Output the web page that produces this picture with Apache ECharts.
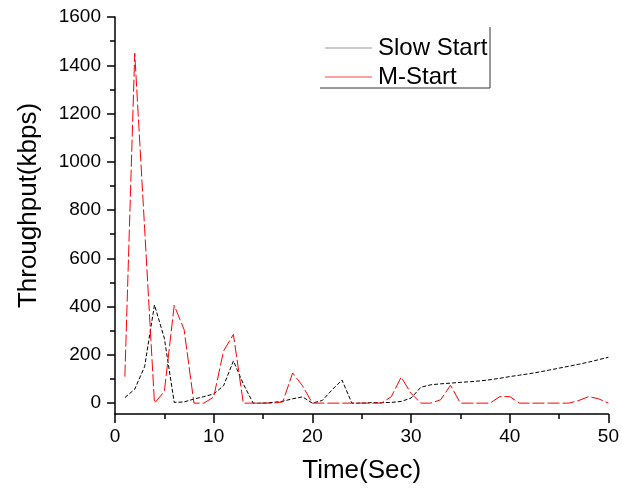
<!DOCTYPE html>
<html>
<head>
<meta charset="utf-8">
<script src="https://cdn.jsdelivr.net/npm/echarts@6/dist/echarts.min.js"></script>
<style>
html,body{margin:0;padding:0;background:#fff;}
#chart{width:622px;height:490px;}
</style>
</head>
<body>
<div id="chart"></div>
<script>
// ---- data ----
const times = [1,2,3,4,5,6,7,8,9,10,11,12,13,14,15,16,17,18,19,20,21,22,23,24,25,26,27,28,29,30,31,32,33,34,35,36,37,38,39,40,41,42,43,44,45,46,47,48,49,50];
const slowStart = [23,58,151,407,269,3,5,17,27,38, 72,175,80,0,0,3,8,18,26,0, 11,55,96,0,0,2,2,3,7,21, 66,76,80,83,86,89,92,97,103,110, 116,122,129,137,145,153,161,170,180,190];
const mStart = [110,1450,725,0,48,405,305,0,0,25, 216,285,0,0,0,0,5,125,72,0, 0,0,0,0,0,0,0,27,108,40, 0,0,14,74,0,0,0,0,27,27, 0,0,0,0,0,0,11,27,18,0];
const seriesNames = ['Slow Start', 'M-Start'];
const yMajorTicks = [0,200,400,600,800,1000,1200,1400,1600];
const yMinorTicks = [100,300,500,700,900,1100,1300,1500];
const xTitle = 'Time(Sec)';
const yTitle = 'Throughput(kbps)';

const FONT = '"Liberation Sans", Arial, sans-serif';
const chart = echarts.init(document.getElementById('chart'), null, {renderer:'canvas'});
const axisLineStyle = {color:'#000', width:1.5};
const plain = v => String(v);

chart.setOption({
  animation:false,
  backgroundColor:'#fff',
  grid:{left:115, top:17, width:494, height:397, containLabel:false},
  legend:{
    orient:'vertical', left:320, top:30, itemWidth:47, itemHeight:1.2, itemGap:3,
    icon:'rect',
    textStyle:{fontFamily:FONT, fontSize:24, color:'#000', lineHeight:26, padding:[0,0,0,1]},
    data:[
      {name:seriesNames[0], itemStyle:{color:'#999'}},
      {name:seriesNames[1], itemStyle:{color:'#ff4444'}}
    ]
  },
  graphic:[{
    type:'polyline', silent:true,
    shape:{points:[[320,88],[490,88],[490,27]]},
    style:{stroke:'#333', lineWidth:1, fill:null}
  }],
  xAxis:{
    type:'value', min:0, max:50, interval:10,
    name:xTitle, nameLocation:'middle', nameGap:44,
    nameTextStyle:{fontFamily:FONT, fontSize:26, color:'#000'},
    axisLine:{show:true, onZero:false, lineStyle:axisLineStyle},
    axisTick:{show:true, length:9, inside:false, lineStyle:axisLineStyle},
    minorTick:{show:true, splitNumber:2, length:5, lineStyle:{color:'#000', width:1.5}},
    axisLabel:{fontFamily:FONT, fontSize:19, color:'#000', margin:13, formatter:plain},
    splitLine:{show:false}
  },
  yAxis:[{
    type:'value', min:-45, max:1600, position:'left',
    name:yTitle, nameLocation:'middle', nameGap:73,
    nameTextStyle:{fontFamily:FONT, fontSize:26, color:'#000', padding:[0,0,0,20]},
    axisLine:{show:true, onZero:false, lineStyle:axisLineStyle},
    axisTick:{show:true, length:8, customValues:yMajorTicks, lineStyle:axisLineStyle},
    axisLabel:{fontFamily:FONT, fontSize:19, color:'#000', margin:14, customValues:yMajorTicks, formatter:plain},
    splitLine:{show:false}
  },{
    type:'value', min:-45, max:1600, position:'left',
    axisLine:{show:false},
    axisTick:{show:true, length:5, customValues:yMinorTicks, lineStyle:axisLineStyle},
    axisLabel:{show:false},
    splitLine:{show:false}
  }],
  series:[{
    name:seriesNames[0], type:'line', symbol:'none', yAxisIndex:0, z:2,
    data:times.map((t,i)=>[t, slowStart[i]]),
    itemStyle:{color:'#000'},
    lineStyle:{color:'#000', width:1, type:[4,2]}
  },{
    name:seriesNames[1], type:'line', symbol:'none', yAxisIndex:0, z:3,
    data:times.map((t,i)=>[t, mStart[i]]),
    itemStyle:{color:'#ff0000'},
    lineStyle:{color:'#ff0000', width:1, type:[12,3]}
  }]
});
</script>
</body>
</html>
